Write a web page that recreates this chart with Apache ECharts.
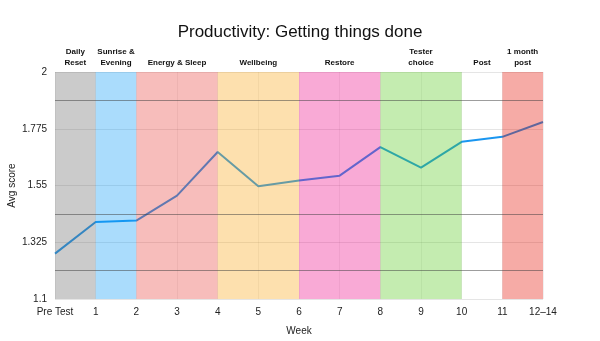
<!DOCTYPE html>
<html>
<head>
<meta charset="utf-8">
<script src="https://cdn.jsdelivr.net/npm/echarts@6/dist/echarts.min.js"></script>
<style>html,body{margin:0;padding:0;background:#fff}#c{width:600px;height:341px}</style>
</head>
<body>
<div id="c"></div>
<script>
const weeks = ['Pre Test','1','2','3','4','5','6','7','8','9','10','11','12–14'];
const scores = [1.28, 1.405, 1.411, 1.51, 1.683, 1.547, 1.57, 1.589, 1.702, 1.621, 1.723, 1.743, 1.802];
const yTickLabels = ['1.1','1.325','1.55','1.775','2'];
const yMin = 1.1, yStep = 0.225;
const bandNames = ['Daily\nReset','Sunrise &\nEvening','Energy & Sleep','Wellbeing','Restore','Tester\nchoice','Post','1 month\npost'];
const bandStart = [0,1,2,4,6,8,10,11];
const bandEnd   = [1,2,4,6,8,10,11,12];
const bandColors = ['rgba(106,106,106,0.35)','rgba(12,155,246,0.35)','rgba(232,66,61,0.35)','rgba(249,166,24,0.35)','rgba(238,12,138,0.35)','rgba(86,201,29,0.35)','rgba(255,255,255,0)','rgba(229,15,0,0.35)'];
const darkLines = [1.2125, 1.4375, 1.8875];

const toAxis = v => (v - yMin) / yStep;
const chart = echarts.init(document.getElementById('c'));
const font = 'Liberation Sans, Arial, sans-serif';
const yData = scores.map(toAxis);

chart.setOption({
  animation: false,
  backgroundColor: '#fff',
  textStyle: { fontFamily: font },
  title: {
    text: 'Productivity: Getting things done',
    left: 'center', top: 19,
    textStyle: { fontSize: 17, fontWeight: 'normal', color: '#111', fontFamily: font }
  },
  grid: { left: 55, right: 57, top: 72, bottom: 42, containLabel: false, outerBoundsMode: 'none' },
  xAxis: {
    type: 'category', data: weeks, boundaryGap: false,
    name: 'Week', nameLocation: 'middle', nameGap: 27,
    nameTextStyle: { fontSize: 10, color: '#222' },
    axisLine: { show: false }, axisTick: { show: false },
    axisLabel: { fontSize: 10, color: '#222', margin: 8, interval: 0 },
    splitLine: { show: true, interval: 0, lineStyle: { color: 'rgba(0,0,0,0.06)', width: 1 } }
  },
  yAxis: {
    type: 'value', min: 0, max: 4, interval: 1,
    name: 'Avg score', nameLocation: 'middle', nameGap: 38, nameMoveOverlap: false,
    nameTextStyle: { fontSize: 10, color: '#222' },
    axisLine: { show: false }, axisTick: { show: false },
    axisLabel: { fontSize: 10, color: '#222', margin: 8, formatter: v => yTickLabels[Math.round(v)] },
    splitLine: { show: true, lineStyle: { color: 'rgba(0,0,0,0.1)', width: 1 } }
  },
  series: [
    {
      type: 'line', z: 2, data: yData, symbol: 'none',
      lineStyle: { color: '#1a96f0', width: 2 }
    },
    {
      type: 'line', z: 3, data: yData, symbol: 'none', silent: true,
      lineStyle: { opacity: 0 },
      markArea: {
        silent: true, z: 5,
        label: { show: true, position: 'top', distance: 4, fontSize: 8, fontWeight: 'bold', color: '#111', lineHeight: 11, fontFamily: font },
        data: bandNames.map((n, i) => [
          { name: n, xAxis: weeks[bandStart[i]], itemStyle: { color: bandColors[i] } },
          { xAxis: weeks[bandEnd[i]] }
        ])
      }
    },
    {
      type: 'line', z: 4, data: yData, symbol: 'none', silent: true,
      lineStyle: { opacity: 0 },
      markLine: {
        silent: true, symbol: 'none', z: 6, label: { show: false },
        lineStyle: { color: 'rgba(60,60,60,0.5)', width: 1, type: 'solid' },
        data: darkLines.map(v => ({ yAxis: toAxis(v) }))
      }
    }
  ]
});
</script>
</body>
</html>
